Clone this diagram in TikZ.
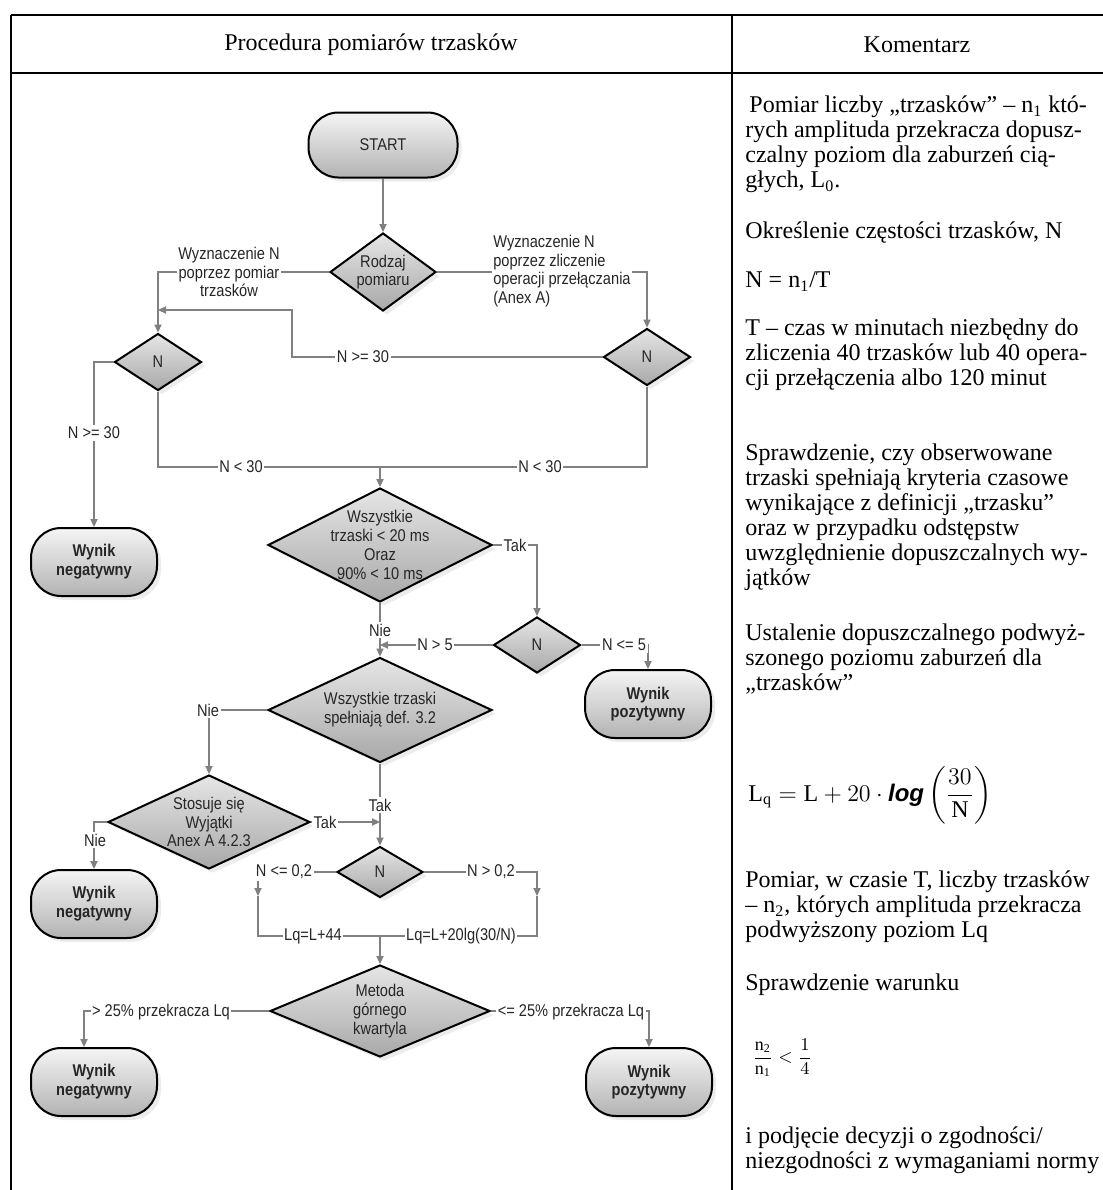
\documentclass[tikz,border=0pt]{standalone}
\usepackage{fontspec}
\usepackage{amsmath}
\setmainfont{Liberation Serif}
\setsansfont{Liberation Sans}
\newfontfamily\flowfont[FakeStretch=0.86]{Liberation Sans}
\usetikzlibrary{arrows.meta,positioning,shapes.geometric,shadows}

\tikzset{
  flow/.style={font=\flowfont\fontsize{8.5}{9.4}\selectfont, align=center, text=black!85},
  term/.style={flow, rectangle, rounded corners=15pt, draw, line width=1pt,
    top color=black!4, bottom color=black!30, minimum width=#1, minimum height=34pt,
    inner sep=0pt, drop shadow={shadow xshift=2pt, shadow yshift=-2pt, fill=black!15}},
  wynik/.style={term=63pt, font=\flowfont\fontsize{8.5}{9.4}\selectfont\bfseries},
  dec/.style 2 args={diamond, draw, line width=1pt, top color=black!10, bottom color=black!34,
    minimum width=#1, minimum height=#2, inner sep=0pt,
    drop shadow={shadow xshift=2pt, shadow yshift=-2pt, fill=black!15}},
  lbl/.style={flow, fill=white, inner sep=0.8pt},
  conn/.style={draw=black!50, line width=0.6pt},
  note/.style={anchor=north west, inner sep=0pt, align=left, font=\fontsize{12}{12.5}\selectfont},
}

\begin{document}
\begin{tikzpicture}[x=0.5pt, y=-0.5pt, >={Triangle[length=4pt,width=3.6pt]}]
        \useasboundingbox (0,0) rectangle (1103,1190);

        % table frame
        \draw[line width=1.1pt] (11,15) -- (1103,15);
        \draw[line width=1.1pt] (11,73) -- (1103,73);
        \draw[line width=1.1pt] (11,15) -- (11,1190);
        \draw[line width=1.1pt] (732,15) -- (732,1190);
        \node[font=\fontsize{12}{14}\selectfont] (head1) at (371,45) {Procedura pomiarów trzasków};
        \node[font=\fontsize{12}{14}\selectfont] (head2) at (917,45) {Komentarz};

        % flowchart nodes
        \node[term=74.5pt, minimum height=32.5pt] (start) at (383,145) {START};
        \node[dec={53pt}{39pt}, label={[flow]center:Rodzaj\\pomiaru}] (rodz) at (383,272) {};
        \node[dec={43.5pt}{28.5pt}, label={[flow]center:N}] (nl) at (158,362) {};
        \node[dec={43.5pt}{28.5pt}, label={[flow]center:N}] (nr) at (647,357) {};
        \node[wynik] (wn1) at (94,562) {Wynik\\negatywny};
        \node[dec={112pt}{57pt}, label={[flow]center:Wszystkie\\trzaski < 20 ms\\Oraz\\90\% < 10 ms}] (w1) at (380,545) {};
        \node[dec={43.5pt}{28pt}, label={[flow]center:N}] (n3) at (537,645) {};
        \node[wynik] (wp1) at (648,704) {Wynik\\pozytywny};
        \node[dec={112pt}{52.5pt}, label={[flow]center:Wszystkie trzaski\\spełniają def. 3.2}] (w2) at (380,710) {};
        \node[dec={101pt}{47pt}, label={[flow]center:Stosuje się\\Wyjątki\\Anex A 4.2.3}] (st) at (209,822) {};
        \node[wynik] (wn2) at (94,904) {Wynik\\negatywny};
        \node[dec={43pt}{25.5pt}, label={[flow]center:N}] (n4) at (380,872) {};
        \node[dec={110pt}{46pt}, label={[flow]center:Metoda\\górnego\\kwartyla}] (met) at (380,1011) {};
        \node[wynik] (wn3) at (94,1082) {Wynik\\negatywny};
        \node[wynik] (wp2) at (649,1082) {Wynik\\pozytywny};

        % connectors
        \coordinate (j1) at (292,310);
        \coordinate (j2) at (380,467);
        \coordinate (q1) at (258,896);
        \coordinate (q2) at (537,896);
        \coordinate (j3) at (380,936);
        \draw[conn,->] (start) -- (rodz);
        \draw[conn,->] (rodz.west) -| (nl.north);
        \draw[conn,->] (rodz.east) -| (nr.north);
        \draw[conn,->] (nr.west) -| (j1) -- (j1 -| nl.north);
        \draw[conn,->] (nl.west) -| (wn1.north);
        \draw[conn] (nl.south) |- (j2);
        \draw[conn] (nr.south) |- (j2);
        \draw[conn,->] (j2) -- (w1.north);
        \draw[conn,->] (w1.east) -| (n3.north);
        \draw[conn,->] (w1.south) -- (w2.north);
        \draw[conn,->] (n3.west) -- (n3.west -| w1.south);
        \draw[conn,->] (n3.east) -| (wp1.north);
        \draw[conn,->] (w2.west) -| (st.north);
        \draw[conn,->] (w2.south) -- (n4.north);
        \draw[conn,->] (st.east) -- (st.east -| w2.south);
        \draw[conn,->] (st.west) -| (wn2.north);
        \draw[conn,->] (n4.west) -| (q1);
        \draw[conn] (q1) |- (j3);
        \draw[conn,->] (n4.east) -| (q2);
        \draw[conn] (q2) |- (j3);
        \draw[conn,->] (j3) -- (met.north);
        \draw[conn,->] (met.west) -| ([xshift=-5pt]wn3.north);
        \draw[conn,->] (met.east) -| (wp2.north);

        % connector labels
        \node[lbl] (lbA) at (229,272) {Wyznaczenie N\\poprzez pomiar\\trzasków};
        \node[lbl, align=left] (lbB) at (562,271) {Wyznaczenie N\\poprzez zliczenie\\operacji przełączania\\(Anex A)};
        \node[lbl] (lbC) at (363,357) {N >= 30};
        \node[lbl] (lbD) at (94,433) {N >= 30};
        \node[lbl] (lbE) at (241,467) {N < 30};
        \node[lbl] (lbF) at (540,467) {N < 30};
        \node[lbl] (lbG) at (515,545) {Tak};
        \node[lbl] (lbH) at (380,630) {Nie};
        \node[lbl] (lbI) at (435,645) {N > 5};
        \node[lbl] (lbJ) at (624,645) {N <= 5};
        \node[lbl] (lbK) at (208,710) {Nie};
        \node[lbl] (lbL) at (380,805) {Tak};
        \node[lbl] (lbM) at (325,822) {Tak};
        \node[lbl] (lbN) at (95,840) {Nie};
        \node[lbl] (lbO) at (284,872) {N <= 0,2};
        \node[lbl] (lbP) at (491,872) {N > 0,2};
        \node[lbl] (lbQ) at (313,936) {Lq=L+44};
        \node[lbl] (lbR) at (461,936) {Lq=L+20lg(30/N)};
        \node[lbl] (lbS) at (161,1012) {> 25\% przekracza Lq};
        \node[lbl] (lbT) at (571,1012) {<= 25\% przekracza Lq};

        % comment column
        \node[note] (c1) at (745,95) {\strut\hspace{2pt}Pomiar liczby „trzasków” – n\textsubscript{1} któ-\\rych amplituda przekracza dopusz-\\czalny poziom dla zaburzeń cią-\\głych, L\textsubscript{0}.};
        \node[note] (c2) at (745,221) {\strut Określenie częstości trzasków, N};
        \node[note] (c3) at (745,270) {\strut N = n\textsubscript{1}/T};
        \node[note] (c4) at (745,318) {\strut T – czas w minutach niezbędny do\\zliczenia 40 trzasków lub 40 opera-\\cji przełączenia albo 120 minut};
        \node[note] (c5) at (745,443) {\strut Sprawdzenie, czy obserwowane\\trzaski spełniają kryteria czasowe\\wynikające z definicji „trzasku”\\oraz w przypadku odstępstw\\uwzględnienie dopuszczalnych wy-\\jątków};
        \node[note] (c6) at (745,623) {\strut Ustalenie dopuszczalnego podwyż-\\szonego poziomu zaburzeń dla\\„trzasków”};
        \node[anchor=west, inner sep=0pt, font=\fontsize{12}{14}\selectfont] (c7) at (748,795)
          {$\mathrm{L_q} = \mathrm{L} + 20\cdot\textsf{\textbf{\textit{log}}}\left(\dfrac{30}{\mathrm{N}}\right)$};
        \node[note] (c8) at (745,870) {\strut Pomiar, w czasie T, liczby trzasków\\– n\textsubscript{2}, których amplituda przekracza\\podwyższony poziom Lq};
        \node[note] (c9) at (745,973) {\strut Sprawdzenie warunku};
        \node[anchor=west, inner sep=0pt, font=\fontsize{9}{11}\selectfont] (c10) at (752,1058)
          {$\dfrac{\mathrm{n_2}}{\mathrm{n_1}} < \dfrac{1}{4}$};
        \node[note] (c11) at (745,1126) {\strut i podjęcie decyzji o zgodności/\\niezgodności z wymaganiami normy};
\end{tikzpicture}
\end{document}
